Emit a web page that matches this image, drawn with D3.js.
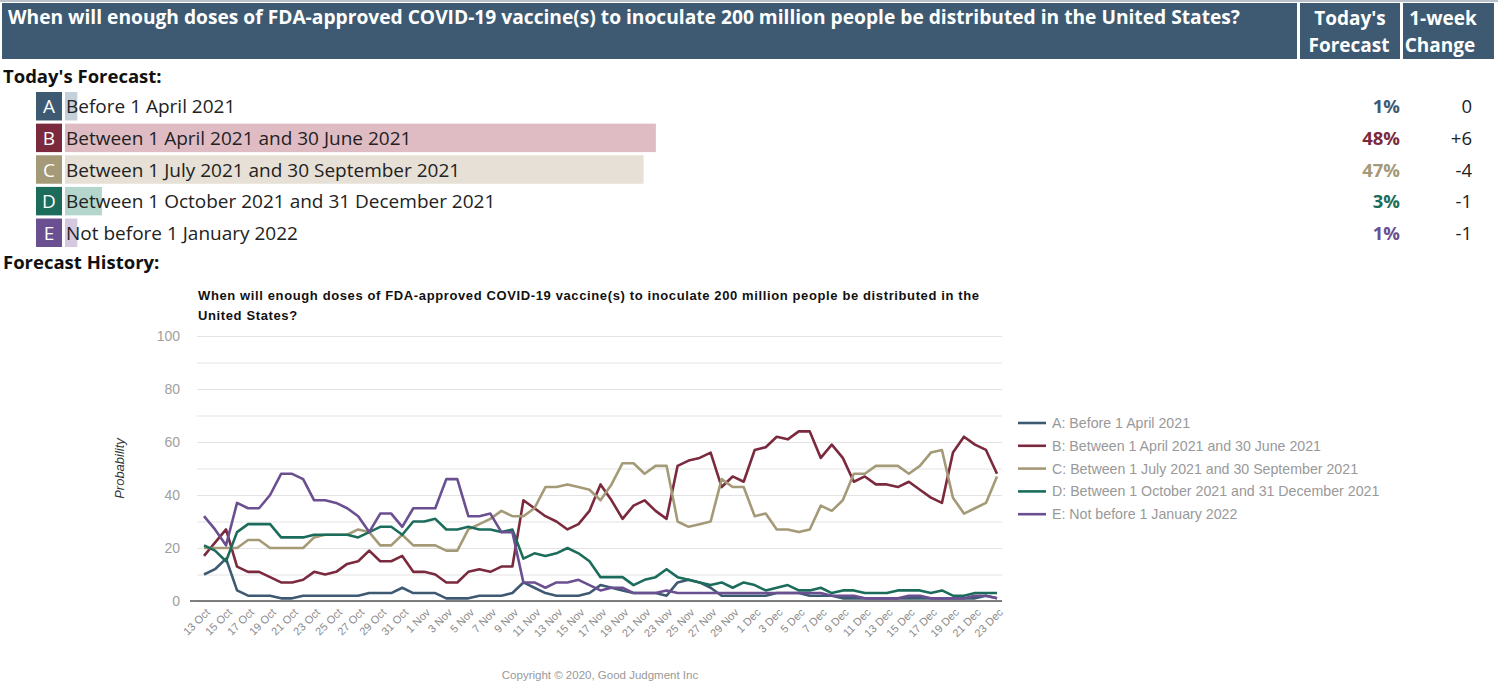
<!DOCTYPE html>
<html>
<head>
<meta charset="utf-8">
<script src="https://cdn.jsdelivr.net/npm/d3@7"></script>
<style>
  body { margin: 0; background: #fff; }
  svg { display: block; }
</style>
</head>
<body>
<div id="page"></div>
<script>
// question + answer options
const question = "When will enough doses of FDA-approved COVID-19 vaccine(s) to inoculate 200 million people be distributed in the United States?";
const letters = ["A", "B", "C", "D", "E"];
const options = [
  "Before 1 April 2021",
  "Between 1 April 2021 and 30 June 2021",
  "Between 1 July 2021 and 30 September 2021",
  "Between 1 October 2021 and 31 December 2021",
  "Not before 1 January 2022"
];
const todayForecast = [1, 48, 47, 3, 1];
const weekChange = ["0", "+6", "-4", "-1", "-1"];

// colours per option (line / letter box, light bar)
const mainColors = ["#3d5a72", "#7b2a3e", "#a49a78", "#1c6c5b", "#6a4f91"];
const barColors = ["#c4d0da", "#dfbcc4", "#e6e0d6", "#b5d6cd", "#d4c9de"];

// history categories (1 Nov appears twice in the source)
const dates = [
  "13 Oct","14 Oct","15 Oct","16 Oct","17 Oct","18 Oct","19 Oct","20 Oct","21 Oct","22 Oct",
  "23 Oct","24 Oct","25 Oct","26 Oct","27 Oct","28 Oct","29 Oct","30 Oct","31 Oct",
  "1 Nov","1 Nov","2 Nov","3 Nov","4 Nov","5 Nov","6 Nov","7 Nov","8 Nov","9 Nov","10 Nov",
  "11 Nov","12 Nov","13 Nov","14 Nov","15 Nov","16 Nov","17 Nov","18 Nov","19 Nov","20 Nov",
  "21 Nov","22 Nov","23 Nov","24 Nov","25 Nov","26 Nov","27 Nov","28 Nov","29 Nov","30 Nov",
  "1 Dec","2 Dec","3 Dec","4 Dec","5 Dec","6 Dec","7 Dec","8 Dec","9 Dec","10 Dec",
  "11 Dec","12 Dec","13 Dec","14 Dec","15 Dec","16 Dec","17 Dec","18 Dec","19 Dec","20 Dec",
  "21 Dec","22 Dec","23 Dec"
];

const seriesA = [10,12,16,4,2,2,2,1,1,2,2,2,2,2,2,3,3,3,5,
  3,3,3,1,1,1,2,2,2,3,7,5,3,2,2,2,3,6,5,
  4,3,3,3,2,7,8,7,5,2,2,2,2,2,3,3,3,
  2,2,2,1,1,1,1,1,1,1,1,1,1,1,1,1,2,1];
const seriesB = [17,22,27,13,11,11,9,7,7,8,11,10,11,14,15,19,15,15,17,
  11,11,10,7,7,11,12,11,13,13,38,35,32,30,27,29,34,44,38,
  31,36,38,34,31,51,53,54,56,43,47,45,57,58,62,61,64,
  64,54,59,54,45,47,44,44,43,45,42,39,37,56,62,59,57,48];
const seriesC = [20,20,20,20,23,23,20,20,20,20,24,25,25,25,27,26,21,21,25,
  21,21,21,19,19,27,29,31,34,32,32,35,43,43,44,43,42,38,44,
  52,52,48,51,51,30,28,29,30,46,43,43,32,33,27,27,26,
  27,36,34,38,48,48,51,51,51,48,51,56,57,39,33,35,37,47];
const seriesD = [21,19,15,26,29,29,29,24,24,24,25,25,25,25,24,26,28,28,25,
  30,30,31,27,27,28,27,27,26,27,16,18,17,18,20,18,15,9,9,
  9,6,8,9,12,9,8,7,6,7,5,7,6,4,5,6,4,
  4,5,3,4,4,3,3,3,4,4,4,3,4,2,2,3,3,3];
const seriesE = [32,27,21,37,35,35,40,48,48,46,38,38,37,35,32,26,33,33,28,
  35,35,35,46,46,32,32,33,26,26,7,7,5,7,7,8,6,4,5,
  5,3,3,3,4,3,3,3,3,3,3,3,3,3,3,3,3,
  3,3,2,2,2,1,1,1,1,2,2,1,1,1,1,2,2,1];
const allSeries = [seriesA, seriesB, seriesC, seriesD, seriesE];

const yTicks = [0, 20, 40, 60, 80, 100];
const yGrid = [0, 10, 20, 30, 40, 50, 60, 70, 80, 90, 100];

const W = 1498, H = 700;
const headFont = "'Open Sans', 'Noto Sans', sans-serif";
const chartFont = "'Liberation Sans', Arial, sans-serif";

const svg = d3.select("#page").append("svg")
    .attr("width", W)
    .attr("height", H);

// ---- header bar
const header = svg.append("g");
header.append("rect").attr("x", 0).attr("y", 0).attr("width", W).attr("height", 2).attr("fill", "#b9c2ca");
header.append("rect").attr("x", 2).attr("y", 3).attr("width", 1295).attr("height", 56).attr("fill", "#3d5a72");
header.append("rect").attr("x", 1300).attr("y", 3).attr("width", 100).attr("height", 56).attr("fill", "#3d5a72");
header.append("rect").attr("x", 1403).attr("y", 3).attr("width", 91).attr("height", 56).attr("fill", "#3d5a72");

header.append("text")
    .attr("x", 8).attr("y", 24)
    .attr("font-family", headFont).attr("font-weight", 700).attr("font-size", 19.2)
    .attr("fill", "#fff")
    .text(question);

[["Today's", 1350, 25], ["Forecast", 1349, 52], ["1-week", 1443, 25], ["Change", 1440, 52]].forEach(d => {
    header.append("text")
        .attr("x", d[1]).attr("y", d[2])
        .attr("text-anchor", "middle")
        .attr("font-family", headFont).attr("font-weight", 700).attr("font-size", 19)
        .attr("fill", "#fff")
        .text(d[0]);
});

// ---- today's forecast
svg.append("text")
    .attr("x", 3).attr("y", 83)
    .attr("font-family", headFont).attr("font-weight", 700).attr("font-size", 18.5)
    .attr("fill", "#111")
    .text("Today's Forecast:");

const barX = d3.scaleLinear().domain([0, 100]).range([65, 1296]);
const rowY = d3.scaleBand().domain(letters).range([92, 247]).paddingInner(0.1);

const rows = svg.selectAll(".row")
    .data(letters)
    .enter().append("g")
    .attr("class", "row");

rows.append("rect")
    .attr("x", barX(0))
    .attr("y", d => rowY(d))
    .attr("width", (d, i) => barX(todayForecast[i]) - barX(0))
    .attr("height", rowY.bandwidth())
    .attr("fill", (d, i) => barColors[i]);

rows.append("rect")
    .attr("x", 36)
    .attr("y", d => rowY(d))
    .attr("width", 26)
    .attr("height", rowY.bandwidth())
    .attr("fill", (d, i) => mainColors[i]);

rows.append("text")
    .attr("x", 49)
    .attr("y", d => rowY(d) + rowY.bandwidth() / 2 + 7)
    .attr("text-anchor", "middle")
    .attr("font-family", headFont).attr("font-size", 19)
    .attr("fill", "#fff")
    .text(d => d);

rows.append("text")
    .attr("x", 66)
    .attr("y", d => rowY(d) + rowY.bandwidth() / 2 + 7)
    .attr("font-family", headFont).attr("font-size", 19)
    .attr("fill", "#222")
    .text((d, i) => options[i]);

rows.append("text")
    .attr("x", 1400)
    .attr("y", d => rowY(d) + rowY.bandwidth() / 2 + 7)
    .attr("text-anchor", "end")
    .attr("font-family", headFont).attr("font-weight", 700).attr("font-size", 18.5)
    .attr("fill", (d, i) => mainColors[i])
    .text((d, i) => todayForecast[i] + "%");

rows.append("text")
    .attr("x", 1472)
    .attr("y", d => rowY(d) + rowY.bandwidth() / 2 + 7)
    .attr("text-anchor", "end")
    .attr("font-family", headFont).attr("font-size", 18.5)
    .attr("fill", "#222")
    .text((d, i) => weekChange[i]);

svg.append("text")
    .attr("x", 3).attr("y", 269)
    .attr("font-family", headFont).attr("font-weight", 700).attr("font-size", 18.5)
    .attr("fill", "#111")
    .text("Forecast History:");

// ---- forecast history chart
const plot = { left: 197, top: 336, width: 805, height: 265 };
const g = svg.append("g").attr("transform", "translate(" + plot.left + "," + plot.top + ")");

const x = d3.scalePoint()
    .domain(d3.range(dates.length))
    .range([7, plot.width - 5]);
const y = d3.scaleLinear().domain([0, 100]).range([plot.height, 0]);

// chart title (two lines as in the picture)
const title = svg.append("text")
    .attr("font-family", chartFont).attr("font-weight", 700).attr("font-size", 13)
    .attr("letter-spacing", 0.62)
    .attr("fill", "#111");
title.append("tspan").attr("x", 198).attr("y", 300)
    .text("When will enough doses of FDA-approved COVID-19 vaccine(s) to inoculate 200 million people be distributed in the");
title.append("tspan").attr("x", 198).attr("y", 320).text("United States?");

// gridlines
g.append("g")
    .call(d3.axisLeft(y).tickValues(yGrid).tickSize(-plot.width).tickFormat(""))
    .call(s => s.select(".domain").remove())
    .call(s => s.selectAll("line").attr("stroke", "#e3e3e3").attr("stroke-width", 1));

// y labels
g.append("g")
    .attr("transform", "translate(-14,0)")
    .call(d3.axisLeft(y).tickValues(yTicks).tickSize(0))
    .call(s => s.select(".domain").remove())
    .call(s => s.selectAll("text")
        .attr("font-family", chartFont).attr("font-size", 14).attr("fill", "#a0a0a0"));

svg.append("text")
    .attr("transform", "translate(124," + (plot.top + plot.height / 2) + ") rotate(-90)")
    .attr("text-anchor", "middle")
    .attr("font-family", chartFont).attr("font-style", "italic").attr("font-size", 13)
    .attr("fill", "#333")
    .text("Probability");

// lines
const line = d3.line()
    .x((d, i) => x(i))
    .y(d => y(d));

g.selectAll(".series")
    .data(allSeries)
    .enter().append("path")
    .attr("class", "series")
    .attr("d", line)
    .attr("fill", "none")
    .attr("stroke", (d, i) => mainColors[i])
    .attr("stroke-width", 2.6)
    .attr("stroke-linejoin", "round");

// x axis
g.append("g")
    .attr("transform", "translate(0," + plot.height + ")")
    .call(d3.axisBottom(x)
        .tickValues(d3.range(0, dates.length, 2))
        .tickFormat(i => dates[i])
        .tickSize(0))
    .call(s => s.select(".domain").attr("stroke", "#555").attr("stroke-width", 1.5)
        .attr("d", "M-7,0H" + (plot.width) ))
    .call(s => s.selectAll("text")
        .attr("font-family", chartFont).attr("font-size", 11).attr("fill", "#8a8a8a")
        .attr("text-anchor", "end")
        .attr("dy", 0)
        .attr("transform", "translate(4,10) rotate(-45)"));

// legend
const legend = svg.append("g").attr("transform", "translate(1018,423)");
const legendRows = legend.selectAll("g")
    .data(letters)
    .enter().append("g")
    .attr("transform", (d, i) => "translate(0," + (i * 22.8) + ")");
legendRows.append("line")
    .attr("x1", 0).attr("x2", 28)
    .attr("stroke", (d, i) => mainColors[i])
    .attr("stroke-width", 2.6);
legendRows.append("text")
    .attr("x", 34).attr("y", 5)
    .attr("font-family", chartFont).attr("font-size", 14.2).attr("fill", "#999")
    .text((d, i) => d + ": " + options[i]);

svg.append("text")
    .attr("x", 600).attr("y", 679)
    .attr("text-anchor", "middle")
    .attr("font-family", chartFont).attr("font-size", 11.5).attr("fill", "#999")
    .text("Copyright \u00a9 2020, Good Judgment Inc");
</script>
</body>
</html>
